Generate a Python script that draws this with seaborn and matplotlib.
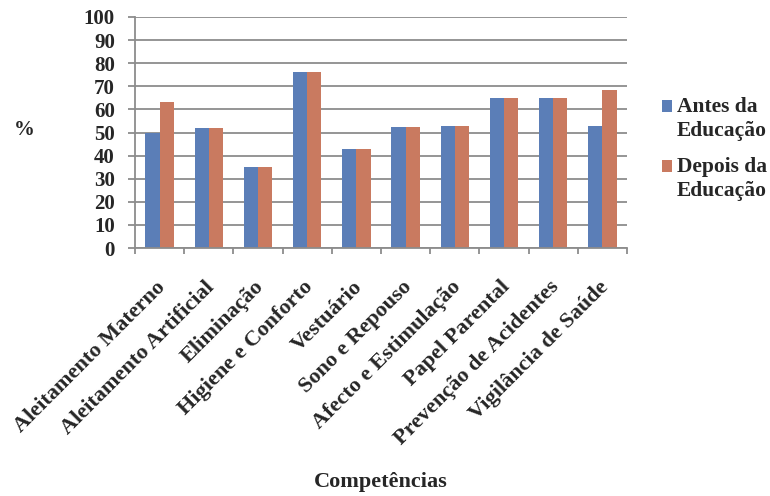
import matplotlib
matplotlib.use("Agg")
import matplotlib.pyplot as plt
from matplotlib.patches import Patch
from matplotlib.transforms import ScaledTranslation
import seaborn as sns
import pandas as pd

categories = ["Aleitamento Materno", "Aleitamento Artificial", "Eliminação",
              "Higiene e Conforto", "Vestuário", "Sono e Repouso",
              "Afecto e Estimulação", "Papel Parental",
              "Prevenção de Acidentes", "Vigilância de Saúde"]
antes = [50, 52, 35, 76, 43, 52.5, 53, 65, 65, 53]
depois = [63, 52, 35, 76, 43, 52.5, 53, 65, 65, 68.5]
series_names = ["Antes da\nEducação", "Depois da\nEducação"]
yticks = list(range(0, 101, 10))

colors = ["#5B7EB7", "#C97A60"]
txt = "#262626"

sns.set_style("white")
plt.rcParams["font.family"] = ["Liberation Serif", "DejaVu Serif"]
plt.rcParams["font.weight"] = "bold"

df = pd.DataFrame({
    "cat": categories * 2,
    "val": antes + depois,
    "serie": [series_names[0]] * len(categories) + [series_names[1]] * len(categories),
})

fig = plt.figure(figsize=(7.7, 4.96), dpi=100)
ax = fig.add_axes([135 / 770, 1 - 248 / 496, (627 - 135) / 770, (248 - 17) / 496])

sns.barplot(data=df, x="cat", y="val", hue="serie", palette=colors, width=0.58,
            saturation=1, legend=False, ax=ax, errorbar=None)
for p in ax.patches:
    p.set_edgecolor("none")

ax.set_ylim(0, 100)
ax.set_xlim(-0.5, len(categories) - 0.5)
ax.set_yticks(yticks)
ax.set_yticklabels([str(v) for v in yticks], fontsize=15, fontweight="bold", color=txt)
ax.yaxis.grid(True, color="#8c8c8c", lw=1.3)
ax.set_axisbelow(True)

for s in ["top", "right"]:
    ax.spines[s].set_visible(False)
for s in ["left", "bottom"]:
    ax.spines[s].set_color("#8c8c8c")
    ax.spines[s].set_linewidth(1.3)

ax.tick_params(axis="y", length=5, width=1.3, color="#8c8c8c", pad=9.5, left=True)
ax.set_xticks(range(len(categories)))
ax.set_xticks([i - 0.5 for i in range(len(categories) + 1)], minor=True)
ax.tick_params(axis="x", which="major", length=0, pad=26)
ax.tick_params(axis="x", which="minor", length=4, width=1.3, color="#8c8c8c", bottom=True)
ax.set_xticklabels(categories, rotation=45, ha="right", va="center",
                   rotation_mode="anchor", fontsize=16, fontweight="bold", color=txt)
for lab in ax.get_xticklabels():
    lab.set_transform(lab.get_transform() + ScaledTranslation(3 / 100, 0, fig.dpi_scale_trans))

ax.set_ylabel("%", rotation=0, fontsize=15, fontweight="bold", color=txt, ha="center", va="center")
ax.yaxis.set_label_coords((24 - 135) / 492, (248 - 130) / 231)
ax.set_xlabel("Competências", fontsize=16, fontweight="bold", color=txt, va="center")
ax.xaxis.set_label_coords((381 - 135) / 492, (248 - 482) / 231)

handles = [Patch(facecolor=c, edgecolor="none") for c in colors]
leg = ax.legend(handles, series_names, loc="upper left",
                bbox_to_anchor=(662 / 770, 1 - 97 / 496), bbox_transform=fig.transFigure,
                frameon=False, handlelength=0.45, handleheight=0.45, handletextpad=0.25,
                labelspacing=0.75, borderpad=0, borderaxespad=0,
                prop={"family": "Liberation Serif", "weight": "bold", "size": 15.5})
for t in leg.get_texts():
    t.set_color(txt)
    t.set_linespacing(1.25)
for h in leg.legend_handles:
    h.set_y(h.get_y() + 9)

fig.savefig("out.png", dpi=100)
